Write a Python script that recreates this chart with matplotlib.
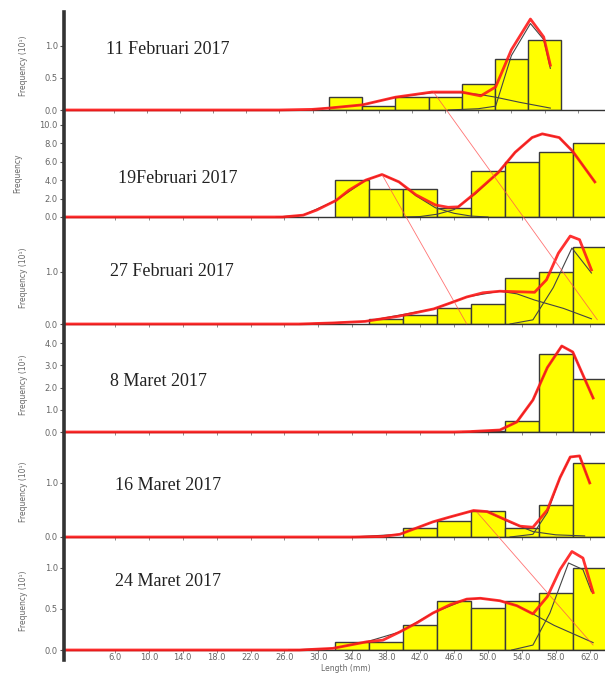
import matplotlib
matplotlib.use("Agg")
import matplotlib.pyplot as plt
from matplotlib.lines import Line2D
from matplotlib.patches import ConnectionPatch

# sample dates (panel titles)
titles = ["11 Februari 2017", "19Februari 2017", "27 Februari 2017",
          "8 Maret 2017", "16 Maret 2017", "24 Maret 2017"]
ylabels = ["Frequency (10\u00b9)", "Frequency", "Frequency (10\u00b9)",
           "Frequency (10\u00b9)", "Frequency (10\u00b9)", "Frequency (10\u00b9)"]

# length-class midpoints (mm) and observed frequencies
bins_1 = [34, 38, 42, 46, 50, 54, 58]
freq_1 = [0.2, 0.07, 0.2, 0.2, 0.4, 0.8, 1.1]
bins_2 = [34, 38, 42, 46, 50, 54, 58, 62]
freq_2 = [4.0, 3.0, 3.0, 1.0, 5.0, 6.0, 7.0, 8.0]
bins_3 = [38, 42, 46, 50, 54, 58, 62]
freq_3 = [0.1, 0.17, 0.3, 0.38, 0.88, 1.0, 1.48]
bins_4 = [50, 54, 58, 62]
freq_4 = [0.05, 0.5, 3.5, 2.4]
bins_5 = [42, 46, 50, 54, 58, 62]
freq_5 = [0.17, 0.3, 0.48, 0.16, 0.59, 1.37]
bins_6 = [34, 38, 42, 46, 50, 54, 58, 62]
freq_6 = [0.1, 0.1, 0.31, 0.6, 0.51, 0.6, 0.7, 1.0]

# fitted total curves (red)
fit_x_1 = [0, 26, 30, 32, 36, 40, 44.4, 48, 50.3, 52.1, 54, 56.3, 57.9, 58.7]
fit_y_1 = [0, 0, 0.01, 0.03, 0.08, 0.2, 0.28, 0.28, 0.22, 0.36, 0.94, 1.42, 1.14, 0.7]
fit_x_2 = [0, 25.8, 28.2, 29.8, 32.1, 33.6, 35.6, 37.5, 39.5, 41.5, 43.8, 45.3,
           46.5, 48.5, 51.2, 53.2, 55.2, 56.4, 58.4, 60, 62.6]
fit_y_2 = [0, 0, 0.2, 0.75, 1.8, 2.9, 4.0, 4.6, 3.8, 2.4, 1.3, 1.05,
           1.1, 2.6, 4.8, 7.0, 8.6, 9.0, 8.6, 7.1, 3.8]
fit_x_3 = [0, 27.8, 31.7, 35.5, 39.5, 43.6, 45.5, 47.5, 49.4, 51.4, 53.4, 55.5,
           56.9, 58.3, 59.7, 60.8, 62.2]
fit_y_3 = [0, 0, 0.02, 0.05, 0.15, 0.29, 0.4, 0.52, 0.6, 0.63, 0.62, 0.61,
           0.85, 1.36, 1.69, 1.62, 1.04]
fit_x_4 = [0, 46, 47.9, 51.4, 53.4, 55.3, 57, 58.7, 60, 62.4]
fit_y_4 = [0, 0, 0.02, 0.09, 0.45, 1.44, 2.9, 3.87, 3.6, 1.53]
fit_x_5 = [0, 34.3, 37.6, 39.6, 43.5, 45.5, 48.3, 49.9, 52.2, 53.8, 55.3, 57,
           58.5, 59.7, 60.8, 62]
fit_y_5 = [0, 0, 0.01, 0.05, 0.28, 0.37, 0.49, 0.47, 0.31, 0.2, 0.18, 0.5,
           1.1, 1.48, 1.5, 1.0]
fit_x_6 = [0, 27.8, 31.7, 35.7, 37.6, 39.6, 41.6, 43.5, 45.5, 47.5, 49.1, 51.4,
           53.4, 55.3, 57, 58.5, 59.9, 61.2, 62.4]
fit_y_6 = [0, 0, 0.02, 0.1, 0.12, 0.22, 0.33, 0.45, 0.55, 0.62, 0.63, 0.6,
           0.54, 0.44, 0.65, 0.98, 1.2, 1.12, 0.7]

# component curves (black): (x list, y list) per panel
comp_1 = [([30, 36, 40, 44.4, 48, 50.3, 52.1, 55, 58.7],
           [0.01, 0.08, 0.2, 0.27, 0.27, 0.24, 0.2, 0.12, 0.03]),
          ([46.4, 50, 52.1, 54, 56.3, 57.9, 58.7],
           [0, 0.02, 0.06, 0.85, 1.35, 1.1, 0.65])]
comp_2 = [([25, 28.2, 32.1, 35.6, 37.5, 39.5, 41.5, 43.8, 46, 48, 50],
           [0, 0.2, 1.8, 4.0, 4.6, 3.8, 2.3, 1.0, 0.4, 0.1, 0]),
          ([40, 42, 44, 46, 48.5, 51.2, 53.2, 55.2, 56.4, 58.4, 60, 62.6],
           [0, 0.05, 0.3, 0.8, 2.5, 4.8, 7.0, 8.6, 9.0, 8.6, 7.1, 3.8])]
comp_3 = [([27.8, 35.5, 43.6, 47.5, 51.4, 53.4, 55.5, 58.9, 62.2],
           [0, 0.05, 0.29, 0.52, 0.63, 0.58, 0.46, 0.3, 0.1]),
          ([52.6, 55.3, 57.7, 59.9, 62.2],
           [0, 0.08, 0.7, 1.46, 0.98])]
comp_4 = [([47, 51.4, 53.4, 55.3, 57, 58.7, 60, 62.4],
           [0, 0.09, 0.45, 1.44, 2.9, 3.87, 3.6, 1.53])]
comp_5 = [([34, 39.6, 43.5, 48.3, 49.9, 52.2, 55.3, 58, 61.4],
           [0, 0.05, 0.28, 0.49, 0.47, 0.3, 0.1, 0.04, 0.02]),
          ([52.6, 55.3, 57, 58.5, 59.7, 60.8, 62],
           [0, 0.05, 0.45, 1.1, 1.48, 1.5, 1.0])]
comp_6 = [([26.5, 31.7, 35.7, 39.6, 43.5, 47.5, 49.1, 51.4, 53.4, 55.3, 57.8, 62.4],
           [0, 0.02, 0.1, 0.22, 0.45, 0.62, 0.63, 0.6, 0.54, 0.44, 0.3, 0.09]),
          ([52.8, 55.3, 57.3, 59.5, 61.2, 62.2],
           [0, 0.06, 0.45, 1.06, 0.98, 0.71])]

# growth lines joining modes across panels: (panel, x, y) -> (panel, x, y)
growth = [((0, 44.6, 0.28), (2, 62.9, 0.08)),
          ((1, 37.5, 4.6), (2, 47.5, 0.0)),
          ((4, 48.7, 0.46), (5, 62.4, 0.06))]

yticks = [[0, 0.5, 1.0], [0, 2, 4, 6, 8, 10], [0, 1.0], [0, 1, 2, 3, 4],
          [0, 1.0], [0, 0.5, 1.0]]
ytops = [1.53, 10.5, 1.96, 4.68, 1.85, 1.34]
xtops = [65.3, 63.8, 63.8, 63.8, 63.8, 63.8]
xticks = list(range(6, 63, 4))

# panel pixel extents (top, bottom) in a 605x675 figure
rows = [(12, 110), (120, 217), (222, 324), (328, 432), (437, 537), (540, 650)]
title_pos = [(106, 50), (118, 178), (110, 272), (110, 382), (115, 485), (115, 581)]

bins = [bins_1, bins_2, bins_3, bins_4, bins_5, bins_6]
freqs = [freq_1, freq_2, freq_3, freq_4, freq_5, freq_6]
fits = [(fit_x_1, fit_y_1), (fit_x_2, fit_y_2), (fit_x_3, fit_y_3),
        (fit_x_4, fit_y_4), (fit_x_5, fit_y_5), (fit_x_6, fit_y_6)]
comps = [comp_1, comp_2, comp_3, comp_4, comp_5, comp_6]

W, H = 605, 675
fig = plt.figure(figsize=(W / 100, H / 100), dpi=100)
left_px = 64
axes = []
for i in range(6):
    top, bot = rows[i]
    ax = fig.add_axes([left_px / W, 1 - bot / H, (W - left_px) / W, (bot - top) / H])
    axes.append(ax)
    ax.bar(bins[i], freqs[i], width=4, color="#ffff00", edgecolor="#3a3a3a",
           linewidth=1.0, zorder=2)
    for cx, cy in comps[i]:
        ax.plot(cx, cy, color="#444444", lw=0.8, zorder=3)
    fx, fy = fits[i]
    ax.plot(fx, fy, color="#ff1a1a", lw=2.0, alpha=0.9, zorder=5, clip_on=False)

    ax.set_xlim(0, xtops[i])
    ax.set_ylim(0, ytops[i])
    ax.set_yticks(yticks[i])
    ax.set_yticklabels(["%.1f" % v for v in yticks[i]])
    ax.set_xticks(xticks)
    for s in ["top", "right"]:
        ax.spines[s].set_visible(False)
    ax.spines["left"].set_visible(False)
    ax.spines["bottom"].set_color("#333333")
    ax.spines["bottom"].set_linewidth(1.0)
    ax.tick_params(axis="y", direction="out", length=3, width=0.8, pad=1.5,
                   labelsize=6, labelcolor="#666666", color="#555555")
    ax.tick_params(axis="x", direction="out", length=2, width=0.6, pad=0.5,
                   labelsize=6, labelcolor="#666666", color="#777777")
    if i < 5:
        ax.set_xticklabels([])
    else:
        ax.set_xticklabels(["%.1f" % v for v in xticks])
        ax.set_xlabel("Length (mm)", fontsize=5.5, color="#666666", labelpad=0,
                      va="top")
        ax.xaxis.set_label_coords(0.52, -0.125)
    ax.set_ylabel(ylabels[i], fontsize=5.5, color="#666666")
    ax.yaxis.set_label_coords(-0.066 if i != 1 else -0.077, 0.45)
    ax.patch.set_alpha(0)

    tx, ty = title_pos[i]
    fig.text(tx / W, 1 - ty / H, titles[i], family="Liberation Serif",
             fontsize=13, color="#222222", va="center", ha="left")

# continuous y-axis line down the left side
fig.add_artist(Line2D([left_px / W, left_px / W], [1 - 12 / H, 1 - 660 / H],
                      transform=fig.transFigure, color="#333333", lw=2.6))

# growth lines
for (pa, xa, ya), (pb, xb, yb) in growth:
    con = ConnectionPatch(xyA=(xa, ya), coordsA=axes[pa].transData,
                          xyB=(xb, yb), coordsB=axes[pb].transData,
                          color="#ff5050", lw=0.6, alpha=0.8, zorder=10)
    fig.add_artist(con)

fig.savefig("out.png", dpi=100)
